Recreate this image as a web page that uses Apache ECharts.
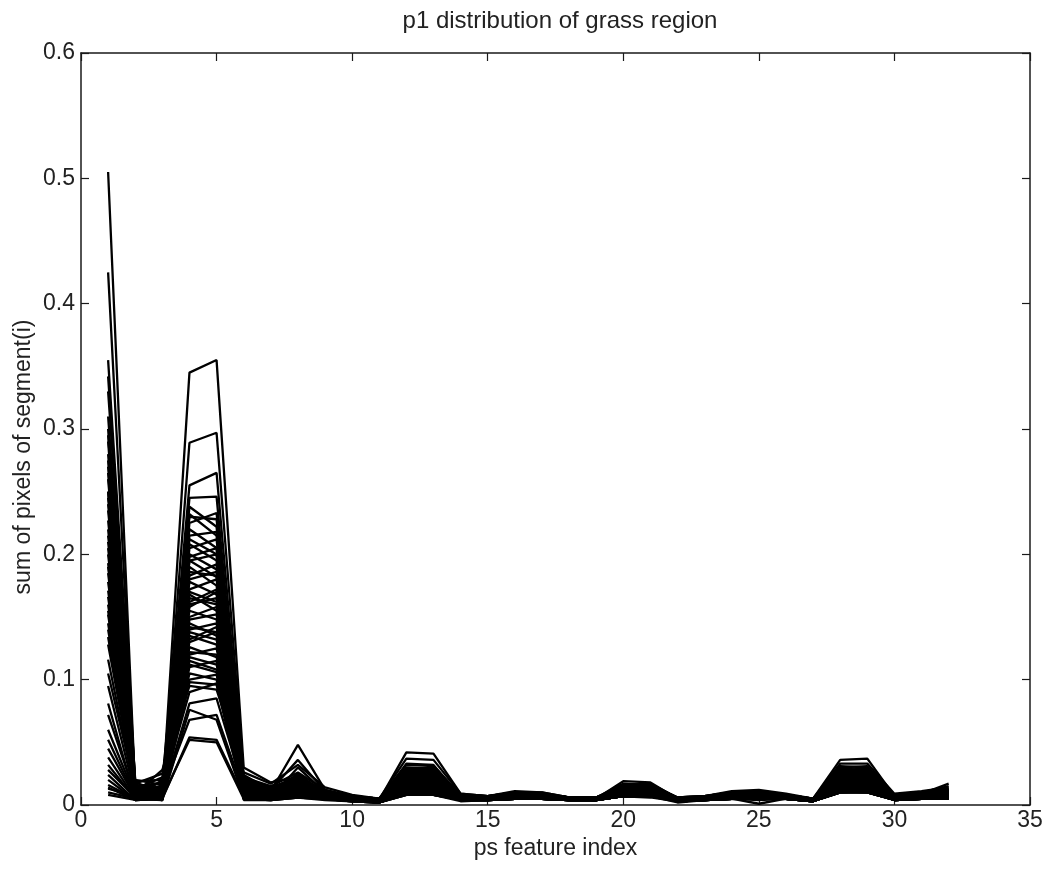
<!DOCTYPE html>
<html>
<head>
<meta charset="utf-8">
<title>p1 distribution of grass region</title>
<script src="https://cdn.jsdelivr.net/npm/echarts@6/dist/echarts.min.js"></script>
<style>
    html, body {margin: 0; padding: 0; background: #fff;}
    #chart_main {width: 1047px; height: 871px;}
</style>
</head>
<body>
<div id="chart_main"></div>
<script>
// feature index 1..32 on x
var featureIndex = [];
for (var k = 1; k <= 32; k++) { featureIndex.push(k); }

var xTicks = [0, 5, 10, 15, 20, 25, 30, 35];
var yTicks = [0, 0.1, 0.2, 0.3, 0.4, 0.5, 0.6];

// one row per segment
var curves = [
    [0.16, 0.008, 0.006, 0.345, 0.355, 0.030, 0.018, 0.022, 0.010, 0.006, 0.004, 0.028, 0.027, 0.007, 0.006, 0.008, 0.007, 0.005, 0.005, 0.012, 0.011, 0.005, 0.006, 0.007, 0.008, 0.007, 0.005, 0.025, 0.024, 0.007, 0.008, 0.012],
    [0.505, 0.012, 0.008, 0.289, 0.297, 0.024, 0.012, 0.036, 0.011, 0.005, 0.003, 0.020, 0.019, 0.006, 0.005, 0.007, 0.006, 0.005, 0.005, 0.010, 0.010, 0.004, 0.005, 0.006, 0.007, 0.006, 0.004, 0.018, 0.017, 0.006, 0.007, 0.009],
    [0.227, 0.010, 0.012, 0.255, 0.265, 0.018, 0.010, 0.025, 0.009, 0.006, 0.004, 0.042, 0.041, 0.009, 0.007, 0.009, 0.008, 0.006, 0.006, 0.015, 0.014, 0.005, 0.006, 0.008, 0.008, 0.007, 0.005, 0.031, 0.030, 0.008, 0.008, 0.010],
    [0.425, 0.014, 0.005, 0.245, 0.246, 0.012, 0.008, 0.015, 0.008, 0.005, 0.003, 0.016, 0.015, 0.005, 0.005, 0.006, 0.006, 0.005, 0.004, 0.009, 0.009, 0.004, 0.005, 0.006, 0.006, 0.006, 0.004, 0.014, 0.013, 0.005, 0.006, 0.008],
    [0.29, 0.006, 0.020, 0.238, 0.222, 0.010, 0.007, 0.012, 0.007, 0.004, 0.003, 0.024, 0.023, 0.006, 0.005, 0.007, 0.007, 0.005, 0.005, 0.011, 0.012, 0.005, 0.005, 0.007, 0.007, 0.006, 0.004, 0.020, 0.021, 0.006, 0.007, 0.010],
    [0.355, 0.018, 0.010, 0.225, 0.233, 0.008, 0.006, 0.030, 0.010, 0.005, 0.004, 0.033, 0.032, 0.007, 0.006, 0.008, 0.007, 0.006, 0.006, 0.013, 0.013, 0.005, 0.006, 0.007, 0.008, 0.007, 0.005, 0.036, 0.037, 0.007, 0.008, 0.011],
    [0.134, 0.009, 0.015, 0.22, 0.205, 0.014, 0.009, 0.018, 0.009, 0.006, 0.004, 0.018, 0.018, 0.006, 0.005, 0.007, 0.006, 0.005, 0.005, 0.009, 0.008, 0.004, 0.005, 0.006, 0.007, 0.006, 0.004, 0.016, 0.016, 0.006, 0.007, 0.009],
    [0.27, 0.007, 0.004, 0.215, 0.218, 0.006, 0.005, 0.008, 0.006, 0.004, 0.003, 0.012, 0.011, 0.005, 0.005, 0.006, 0.005, 0.004, 0.004, 0.008, 0.008, 0.004, 0.005, 0.006, 0.006, 0.005, 0.004, 0.012, 0.012, 0.005, 0.006, 0.007],
    [0.193, 0.011, 0.007, 0.205, 0.212, 0.016, 0.011, 0.020, 0.008, 0.005, 0.004, 0.026, 0.025, 0.007, 0.006, 0.008, 0.007, 0.005, 0.005, 0.019, 0.018, 0.005, 0.006, 0.007, 0.008, 0.007, 0.005, 0.028, 0.027, 0.007, 0.008, 0.010],
    [0.342, 0.016, 0.009, 0.2, 0.188, 0.011, 0.008, 0.014, 0.007, 0.005, 0.003, 0.014, 0.014, 0.005, 0.005, 0.006, 0.006, 0.005, 0.005, 0.008, 0.008, 0.004, 0.005, 0.006, 0.006, 0.006, 0.004, 0.013, 0.014, 0.006, 0.006, 0.008],
    [0.081, 0.005, 0.006, 0.195, 0.2, 0.007, 0.005, 0.010, 0.006, 0.004, 0.003, 0.022, 0.021, 0.006, 0.005, 0.007, 0.006, 0.005, 0.005, 0.010, 0.011, 0.004, 0.005, 0.007, 0.007, 0.006, 0.004, 0.023, 0.022, 0.006, 0.007, 0.009],
    [0.3, 0.013, 0.018, 0.19, 0.175, 0.020, 0.014, 0.022, 0.011, 0.007, 0.005, 0.030, 0.029, 0.008, 0.007, 0.010, 0.009, 0.006, 0.006, 0.017, 0.016, 0.006, 0.007, 0.010, 0.011, 0.008, 0.005, 0.025, 0.026, 0.008, 0.010, 0.013],
    [0.024, 0.004, 0.005, 0.183, 0.192, 0.009, 0.006, 0.011, 0.006, 0.004, 0.002, 0.010, 0.010, 0.004, 0.004, 0.005, 0.005, 0.004, 0.004, 0.007, 0.007, 0.003, 0.004, 0.005, 0.005, 0.005, 0.003, 0.010, 0.011, 0.004, 0.005, 0.006],
    [0.25, 0.008, 0.011, 0.178, 0.168, 0.013, 0.009, 0.016, 0.008, 0.005, 0.004, 0.020, 0.019, 0.006, 0.006, 0.007, 0.007, 0.005, 0.005, 0.012, 0.011, 0.005, 0.006, 0.008, 0.008, 0.007, 0.004, 0.018, 0.019, 0.007, 0.007, 0.009],
    [0.116, 0.010, 0.013, 0.172, 0.18, 0.015, 0.010, 0.024, 0.009, 0.006, 0.004, 0.016, 0.016, 0.006, 0.005, 0.007, 0.006, 0.005, 0.005, 0.009, 0.009, 0.005, 0.005, 0.007, 0.007, 0.006, 0.004, 0.015, 0.015, 0.006, 0.007, 0.008],
    [0.22, 0.015, 0.008, 0.168, 0.155, 0.010, 0.007, 0.013, 0.007, 0.005, 0.003, 0.028, 0.030, 0.007, 0.006, 0.008, 0.008, 0.006, 0.005, 0.014, 0.015, 0.005, 0.006, 0.008, 0.009, 0.007, 0.005, 0.030, 0.031, 0.007, 0.008, 0.011],
    [0.045, 0.006, 0.004, 0.16, 0.165, 0.005, 0.005, 0.007, 0.005, 0.004, 0.002, 0.009, 0.009, 0.004, 0.004, 0.005, 0.005, 0.004, 0.004, 0.007, 0.007, 0.003, 0.004, 0.005, 0.005, 0.005, 0.003, 0.011, 0.010, 0.004, 0.005, 0.006],
    [0.26, 0.009, 0.014, 0.155, 0.148, 0.017, 0.012, 0.019, 0.010, 0.006, 0.004, 0.025, 0.024, 0.007, 0.006, 0.008, 0.008, 0.005, 0.005, 0.011, 0.012, 0.005, 0.006, 0.008, 0.009, 0.007, 0.005, 0.022, 0.023, 0.007, 0.008, 0.010],
    [0.152, 0.012, 0.010, 0.15, 0.158, 0.012, 0.008, 0.017, 0.008, 0.005, 0.004, 0.013, 0.013, 0.005, 0.005, 0.006, 0.006, 0.005, 0.005, 0.008, 0.009, 0.004, 0.005, 0.006, 0.007, 0.006, 0.004, 0.017, 0.018, 0.006, 0.006, 0.008],
    [0.06, 0.007, 0.016, 0.145, 0.135, 0.008, 0.006, 0.009, 0.006, 0.004, 0.003, 0.019, 0.020, 0.006, 0.005, 0.006, 0.006, 0.005, 0.004, 0.010, 0.010, 0.004, 0.005, 0.006, 0.006, 0.006, 0.004, 0.020, 0.019, 0.005, 0.006, 0.008],
    [0.28, 0.017, 0.025, 0.14, 0.145, 0.022, 0.015, 0.026, 0.012, 0.007, 0.005, 0.037, 0.036, 0.009, 0.007, 0.011, 0.010, 0.006, 0.006, 0.016, 0.017, 0.006, 0.007, 0.011, 0.012, 0.009, 0.005, 0.033, 0.033, 0.009, 0.011, 0.014],
    [0.185, 0.006, 0.009, 0.135, 0.128, 0.009, 0.007, 0.012, 0.007, 0.005, 0.003, 0.015, 0.015, 0.005, 0.005, 0.006, 0.006, 0.005, 0.004, 0.008, 0.008, 0.004, 0.005, 0.006, 0.006, 0.005, 0.004, 0.014, 0.015, 0.005, 0.006, 0.007],
    [0.032, 0.005, 0.007, 0.13, 0.138, 0.006, 0.005, 0.008, 0.005, 0.004, 0.003, 0.011, 0.012, 0.005, 0.004, 0.005, 0.005, 0.004, 0.004, 0.007, 0.008, 0.003, 0.004, 0.005, 0.001, 0.005, 0.003, 0.012, 0.012, 0.004, 0.005, 0.006],
    [0.21, 0.010, 0.006, 0.126, 0.118, 0.014, 0.010, 0.021, 0.009, 0.006, 0.004, 0.023, 0.022, 0.007, 0.006, 0.008, 0.007, 0.005, 0.005, 0.013, 0.012, 0.005, 0.006, 0.007, 0.008, 0.007, 0.005, 0.026, 0.025, 0.007, 0.008, 0.010],
    [0.105, 0.013, 0.022, 0.12, 0.125, 0.019, 0.013, 0.016, 0.009, 0.006, 0.004, 0.017, 0.017, 0.006, 0.005, 0.007, 0.007, 0.005, 0.005, 0.009, 0.009, 0.005, 0.005, 0.007, 0.007, 0.006, 0.004, 0.016, 0.017, 0.006, 0.007, 0.009],
    [0.24, 0.011, 0.005, 0.115, 0.108, 0.011, 0.008, 0.014, 0.008, 0.005, 0.003, 0.021, 0.020, 0.006, 0.005, 0.007, 0.006, 0.005, 0.005, 0.010, 0.010, 0.004, 0.005, 0.007, 0.007, 0.006, 0.004, 0.019, 0.020, 0.006, 0.007, 0.009],
    [0.014, 0.004, 0.006, 0.11, 0.115, 0.005, 0.004, 0.006, 0.005, 0.003, 0.002, 0.008, 0.008, 0.004, 0.004, 0.005, 0.005, 0.004, 0.004, 0.007, 0.007, 0.003, 0.004, 0.005, 0.005, 0.005, 0.003, 0.010, 0.010, 0.004, 0.005, 0.005],
    [0.171, 0.014, 0.012, 0.105, 0.1, 0.016, 0.011, 0.018, 0.010, 0.006, 0.004, 0.027, 0.026, 0.007, 0.006, 0.008, 0.008, 0.006, 0.005, 0.012, 0.013, 0.005, 0.006, 0.008, 0.009, 0.007, 0.005, 0.024, 0.024, 0.007, 0.008, 0.011],
    [0.072, 0.008, 0.010, 0.1, 0.104, 0.008, 0.006, 0.010, 0.006, 0.004, 0.003, 0.014, 0.013, 0.005, 0.005, 0.006, 0.006, 0.004, 0.004, 0.008, 0.008, 0.004, 0.005, 0.006, 0.006, 0.005, 0.004, 0.013, 0.013, 0.005, 0.006, 0.007],
    [0.2, 0.009, 0.028, 0.095, 0.092, 0.026, 0.017, 0.032, 0.014, 0.008, 0.005, 0.032, 0.031, 0.008, 0.007, 0.010, 0.010, 0.006, 0.006, 0.015, 0.016, 0.006, 0.007, 0.010, 0.011, 0.008, 0.005, 0.029, 0.028, 0.008, 0.010, 0.013],
    [0.128, 0.012, 0.008, 0.081, 0.085, 0.013, 0.009, 0.015, 0.008, 0.005, 0.003, 0.018, 0.017, 0.006, 0.005, 0.007, 0.007, 0.005, 0.005, 0.009, 0.010, 0.004, 0.005, 0.007, 0.007, 0.006, 0.004, 0.017, 0.016, 0.006, 0.007, 0.009],
    [0.01, 0.005, 0.004, 0.076, 0.068, 0.006, 0.005, 0.007, 0.005, 0.003, 0.002, 0.010, 0.009, 0.004, 0.004, 0.005, 0.005, 0.004, 0.004, 0.007, 0.007, 0.003, 0.004, 0.005, 0.005, 0.005, 0.003, 0.011, 0.011, 0.004, 0.005, 0.006],
    [0.145, 0.007, 0.011, 0.068, 0.072, 0.010, 0.007, 0.013, 0.007, 0.005, 0.003, 0.012, 0.012, 0.005, 0.005, 0.006, 0.006, 0.005, 0.004, 0.008, 0.008, 0.004, 0.005, 0.006, 0.006, 0.006, 0.004, 0.012, 0.013, 0.005, 0.006, 0.007],
    [0.052, 0.006, 0.005, 0.054, 0.052, 0.007, 0.005, 0.009, 0.006, 0.004, 0.003, 0.009, 0.010, 0.004, 0.004, 0.005, 0.005, 0.004, 0.004, 0.007, 0.007, 0.003, 0.004, 0.005, 0.005, 0.005, 0.003, 0.010, 0.011, 0.004, 0.005, 0.006],
    [0.095, 0.008, 0.006, 0.052, 0.05, 0.005, 0.004, 0.006, 0.005, 0.003, 0.002, 0.008, 0.008, 0.004, 0.004, 0.005, 0.005, 0.004, 0.004, 0.007, 0.007, 0.003, 0.004, 0.005, 0.005, 0.005, 0.003, 0.010, 0.010, 0.004, 0.005, 0.005],
    [0.33, 0.020, 0.016, 0.23, 0.228, 0.021, 0.013, 0.023, 0.011, 0.007, 0.005, 0.024, 0.025, 0.008, 0.006, 0.009, 0.008, 0.006, 0.006, 0.014, 0.013, 0.005, 0.006, 0.009, 0.010, 0.008, 0.005, 0.027, 0.026, 0.008, 0.009, 0.012],
    [0.166, 0.010, 0.009, 0.212, 0.2, 0.012, 0.009, 0.016, 0.008, 0.005, 0.004, 0.019, 0.018, 0.006, 0.005, 0.007, 0.007, 0.005, 0.005, 0.011, 0.011, 0.005, 0.005, 0.007, 0.008, 0.006, 0.004, 0.021, 0.021, 0.006, 0.007, 0.009],
    [0.038, 0.005, 0.008, 0.186, 0.183, 0.007, 0.006, 0.011, 0.006, 0.004, 0.003, 0.013, 0.014, 0.005, 0.005, 0.006, 0.006, 0.005, 0.004, 0.008, 0.009, 0.004, 0.005, 0.006, 0.006, 0.005, 0.004, 0.015, 0.014, 0.005, 0.006, 0.007],
    [0.205, 0.012, 0.014, 0.165, 0.16, 0.015, 0.010, 0.020, 0.009, 0.006, 0.004, 0.022, 0.023, 0.007, 0.006, 0.008, 0.008, 0.005, 0.005, 0.012, 0.012, 0.005, 0.006, 0.008, 0.008, 0.007, 0.005, 0.022, 0.022, 0.007, 0.008, 0.010],
    [0.02, 0.004, 0.005, 0.148, 0.152, 0.006, 0.005, 0.008, 0.005, 0.004, 0.002, 0.009, 0.009, 0.004, 0.004, 0.005, 0.005, 0.004, 0.004, 0.007, 0.007, 0.003, 0.004, 0.005, 0.005, 0.005, 0.003, 0.011, 0.011, 0.004, 0.005, 0.006],
    [0.178, 0.015, 0.010, 0.138, 0.132, 0.012, 0.008, 0.014, 0.008, 0.005, 0.003, 0.016, 0.017, 0.006, 0.005, 0.007, 0.006, 0.005, 0.005, 0.009, 0.010, 0.004, 0.005, 0.007, 0.007, 0.006, 0.004, 0.018, 0.018, 0.006, 0.007, 0.008],
    [0.028, 0.006, 0.007, 0.122, 0.12, 0.008, 0.006, 0.010, 0.006, 0.004, 0.003, 0.011, 0.011, 0.005, 0.004, 0.006, 0.005, 0.004, 0.004, 0.008, 0.008, 0.003, 0.004, 0.006, 0.006, 0.005, 0.004, 0.012, 0.012, 0.005, 0.005, 0.007],
    [0.25, 0.019, 0.020, 0.112, 0.106, 0.018, 0.012, 0.021, 0.010, 0.006, 0.004, 0.026, 0.027, 0.007, 0.006, 0.009, 0.008, 0.006, 0.005, 0.013, 0.014, 0.005, 0.006, 0.009, 0.009, 0.007, 0.005, 0.024, 0.025, 0.008, 0.009, 0.011],
    [0.016, 0.005, 0.006, 0.098, 0.096, 0.006, 0.005, 0.008, 0.005, 0.004, 0.002, 0.010, 0.010, 0.004, 0.004, 0.005, 0.005, 0.004, 0.004, 0.007, 0.007, 0.003, 0.004, 0.005, 0.005, 0.005, 0.003, 0.011, 0.010, 0.004, 0.005, 0.006],
    [0.14, 0.011, 0.013, 0.09, 0.097, 0.011, 0.008, 0.013, 0.007, 0.005, 0.003, 0.015, 0.014, 0.005, 0.005, 0.006, 0.006, 0.005, 0.005, 0.009, 0.009, 0.004, 0.005, 0.007, 0.007, 0.006, 0.004, 0.016, 0.015, 0.006, 0.006, 0.008],
    [0.235, 0.013, 0.011, 0.162, 0.172, 0.014, 0.010, 0.017, 0.009, 0.006, 0.004, 0.020, 0.021, 0.006, 0.006, 0.008, 0.007, 0.005, 0.005, 0.010, 0.011, 0.005, 0.006, 0.007, 0.008, 0.006, 0.004, 0.019, 0.019, 0.007, 0.007, 0.009],
    [0.013, 0.007, 0.004, 0.142, 0.138, 0.005, 0.004, 0.007, 0.005, 0.003, 0.002, 0.009, 0.008, 0.004, 0.004, 0.005, 0.005, 0.004, 0.004, 0.007, 0.006, 0.003, 0.004, 0.005, 0.004, 0.005, 0.003, 0.010, 0.010, 0.004, 0.005, 0.005],
    [0.008, 0.004, 0.005, 0.198, 0.205, 0.004, 0.004, 0.006, 0.004, 0.003, 0.002, 0.008, 0.008, 0.003, 0.004, 0.005, 0.005, 0.004, 0.004, 0.007, 0.007, 0.002, 0.004, 0.005, 0.005, 0.005, 0.003, 0.010, 0.010, 0.004, 0.005, 0.005],
    [0.265, 0.011, 0.009, 0.232, 0.215, 0.016, 0.011, 0.048, 0.012, 0.006, 0.004, 0.021, 0.022, 0.007, 0.006, 0.009, 0.008, 0.006, 0.005, 0.011, 0.012, 0.005, 0.006, 0.008, 0.009, 0.007, 0.005, 0.021, 0.020, 0.007, 0.009, 0.017],
    [0.295, 0.014, 0.012, 0.208, 0.195, 0.013, 0.010, 0.018, 0.009, 0.006, 0.004, 0.025, 0.026, 0.007, 0.006, 0.008, 0.008, 0.006, 0.005, 0.012, 0.013, 0.005, 0.006, 0.008, 0.008, 0.007, 0.005, 0.023, 0.024, 0.007, 0.008, 0.011],
    [0.31, 0.012, 0.015, 0.18, 0.186, 0.017, 0.012, 0.020, 0.010, 0.006, 0.004, 0.027, 0.028, 0.008, 0.006, 0.009, 0.008, 0.006, 0.006, 0.014, 0.014, 0.005, 0.006, 0.009, 0.010, 0.007, 0.005, 0.026, 0.027, 0.008, 0.009, 0.012],
    [0.245, 0.010, 0.008, 0.158, 0.17, 0.011, 0.008, 0.015, 0.008, 0.005, 0.003, 0.017, 0.016, 0.006, 0.005, 0.007, 0.007, 0.005, 0.005, 0.009, 0.010, 0.004, 0.005, 0.007, 0.007, 0.006, 0.004, 0.017, 0.017, 0.006, 0.007, 0.009],
    [0.215, 0.016, 0.013, 0.132, 0.142, 0.014, 0.010, 0.017, 0.009, 0.006, 0.004, 0.023, 0.024, 0.007, 0.006, 0.008, 0.007, 0.005, 0.005, 0.011, 0.011, 0.005, 0.006, 0.008, 0.008, 0.007, 0.005, 0.020, 0.021, 0.007, 0.008, 0.010],
    [0.19, 0.009, 0.007, 0.118, 0.112, 0.010, 0.007, 0.012, 0.007, 0.005, 0.003, 0.014, 0.015, 0.005, 0.005, 0.006, 0.006, 0.005, 0.004, 0.008, 0.009, 0.004, 0.005, 0.006, 0.007, 0.006, 0.004, 0.015, 0.014, 0.005, 0.006, 0.008],
    [0.155, 0.013, 0.011, 0.195, 0.182, 0.012, 0.009, 0.016, 0.008, 0.005, 0.004, 0.018, 0.019, 0.006, 0.005, 0.007, 0.007, 0.005, 0.005, 0.010, 0.010, 0.004, 0.005, 0.007, 0.007, 0.006, 0.004, 0.018, 0.017, 0.006, 0.007, 0.009],
    [0.275, 0.015, 0.017, 0.17, 0.162, 0.019, 0.013, 0.022, 0.011, 0.007, 0.005, 0.029, 0.028, 0.008, 0.007, 0.010, 0.009, 0.006, 0.006, 0.015, 0.015, 0.006, 0.007, 0.010, 0.010, 0.008, 0.005, 0.028, 0.029, 0.008, 0.010, 0.015]
];

var myChart = echarts.init(document.getElementById('chart_main'));

var fontFam = '"Liberation Sans", Arial, Helvetica, sans-serif';
var inkColor = '#000';
var textColor = '#222';

var seriesList = [];
curves.forEach(function(row) {
    var pts = [];
    row.forEach(function(v, i) { pts.push([featureIndex[i], v]); });
    seriesList.push({
        type: 'line',
        data: pts,
        showSymbol: false,
        silent: true,
        lineStyle: {color: inkColor, width: 2.3},
        xAxisIndex: 0,
        yAxisIndex: 0
    });
});

// MATLAB style box: ticks inside on all four sides
var xBase = {
    type: 'value', min: xTicks[0], max: xTicks[xTicks.length - 1], interval: 5,
    axisLine: {show: true, onZero: false, lineStyle: {color: '#1a1a1a', width: 1.5}},
    axisTick: {show: true, inside: true, length: 8, lineStyle: {color: '#1a1a1a', width: 1.2}},
    splitLine: {show: false}
};
var yBase = {
    type: 'value', min: yTicks[0], max: yTicks[yTicks.length - 1], interval: 0.1,
    axisLine: {show: true, onZero: false, lineStyle: {color: '#1a1a1a', width: 1.5}},
    axisTick: {show: true, inside: true, length: 8, lineStyle: {color: '#1a1a1a', width: 1.2}},
    splitLine: {show: false}
};

var option = {
    backgroundColor: '#fff',
    animation: false,
    title: {
        text: 'p1 distribution of grass region',
        left: 555, top: 4, textAlign: 'center',
        textStyle: {color: textColor, fontSize: 24, fontWeight: 'normal', fontFamily: fontFam}
    },
    // fixed plot box, no auto shrinking
    grid: {left: 81, right: 17, top: 53, bottom: 66, outerBoundsMode: 'none'},
    xAxis: [
        Object.assign({}, xBase, {
            position: 'bottom',
            name: 'ps feature index', nameLocation: 'middle', nameGap: 30,
            nameTextStyle: {color: textColor, fontSize: 23, fontFamily: fontFam},
            axisLabel: {color: textColor, fontSize: 23, margin: 4, fontFamily: fontFam}
        }),
        Object.assign({}, xBase, {position: 'top', axisLabel: {show: false}})
    ],
    yAxis: [
        Object.assign({}, yBase, {
            position: 'left',
            name: 'sum of pixels of segment(i)', nameLocation: 'middle', nameGap: 46,
            nameMoveOverlap: false,
            // sits a little below the middle in the original
            nameTextStyle: {color: textColor, fontSize: 23, fontFamily: fontFam, padding: [0, 56, 0, 0]},
            axisLabel: {
                color: textColor, fontSize: 23, margin: 6, fontFamily: fontFam,
                formatter: function(v) { return v === 0 ? '0' : v.toFixed(1); }
            }
        }),
        Object.assign({}, yBase, {position: 'right', axisLabel: {show: false}})
    ],
    series: seriesList
};

myChart.setOption(option);
window.addEventListener('resize', function() { myChart.resize(); });
</script>
</body>
</html>
